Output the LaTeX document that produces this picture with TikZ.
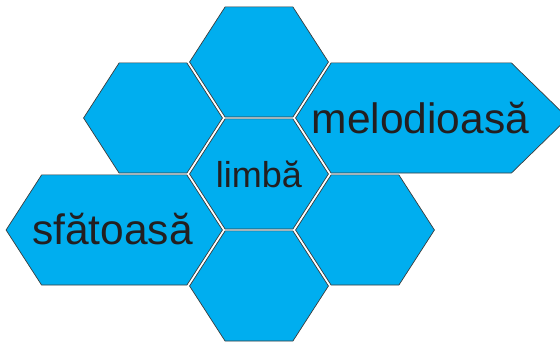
\documentclass[tikz,border=0pt]{standalone}
\usepackage{fontspec}
\setmainfont{Liberation Sans}
\definecolor{cellcyan}{RGB}{0,174,239}
\definecolor{celledge}{RGB}{60,60,60}
\definecolor{celltext}{RGB}{35,31,32}
\def\cellinset{0.9}
% #1 left vertex x, #2 top-left x, #3 top-right x, #4 right vertex x, #5 centre y
\newcommand\hexcell[5]{%
  \filldraw[cellstyle] (#1+1.18*\cellinset,#5) -- (#2+1.8*\cellinset,#5-56+\cellinset)
    -- (#3-1.8*\cellinset,#5-56+\cellinset) -- (#4-1.18*\cellinset,#5)
    -- (#3-1.8*\cellinset,#5+56-\cellinset) -- (#2+1.8*\cellinset,#5+56-\cellinset) -- cycle;}
\begin{document}
\begin{tikzpicture}[x=1pt,y=-1pt,
  cellstyle/.style={fill=cellcyan,draw=celledge,line width=0.7pt,line join=miter},
  celllabel/.style={text=celltext,anchor=base,inner sep=0pt}]
\useasboundingbox (0,0) rectangle (560,344);
\clip (0,0) rectangle (560,344);
% top
\hexcell{188.5}{223.5}{294.5}{329.5}{62}
% upper left
\hexcell{82.5}{117.5}{188.5}{223.5}{118}
% melodioasa
\hexcell{294.5}{329.5}{513}{569}{118}
% centre
\hexcell{188.5}{223.5}{294.5}{329.5}{174}
% sfatoasa
\hexcell{5}{40}{188.5}{223.5}{230}
% lower right
\hexcell{294.5}{329.5}{400.5}{435.5}{230}
% bottom
\hexcell{188.5}{223.5}{294.5}{329.5}{286}
\node[celllabel,font=\fontsize{36}{40}\selectfont] (limba) at (259,188) {limbă};
\node[celllabel,font=\fontsize{42.5}{46}\selectfont] (melod) at (420.5,134) {melodioasă};
\node[celllabel,font=\fontsize{42.5}{46}\selectfont] (sfat) at (112.5,245) {sfătoasă};
\end{tikzpicture}
\end{document}
